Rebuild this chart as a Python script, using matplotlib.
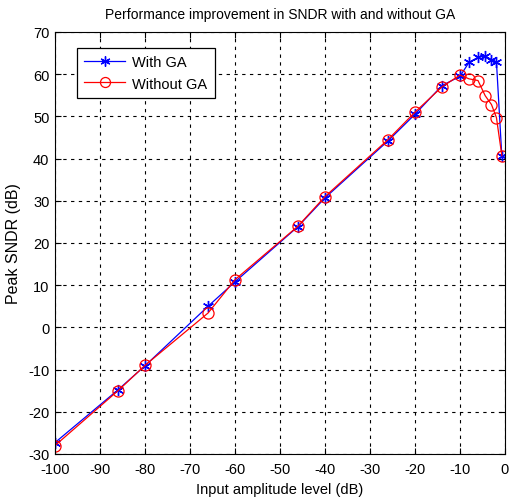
import matplotlib
matplotlib.use("Agg")
import matplotlib.pyplot as plt

x_db = [-100, -86, -80, -66, -60, -46, -40, -26, -20, -14, -10, -8, -6, -4.4, -3, -1.9, -0.7]
with_ga = [-27.3, -14.8, -9.1, 5.0, 10.8, 23.9, 30.7, 44.2, 50.5, 57.3, 59.5, 62.8, 64.0, 64.3, 63.4, 62.9, 40.5]
without_ga = [-28.0, -15.0, -9.0, 3.4, 11.3, 24.0, 31.0, 44.5, 51.0, 57.0, 59.8, 58.9, 58.5, 54.9, 52.8, 49.7, 40.7]
xticks = list(range(-100, 1, 10))
yticks = list(range(-30, 71, 10))

plt.rcParams['font.family'] = ['Liberation Sans', 'DejaVu Sans']
plt.rcParams['axes.unicode_minus'] = False

fig = plt.figure(figsize=(5.1, 5.02), dpi=100)
ax = fig.add_axes([55/510, 47/502, 450/510, 422/502])

ax.plot(x_db, with_ga, color='blue', marker=(6, 2, 0), markersize=8, markeredgewidth=1.0,
        linewidth=0.9, label='With GA')
ax.plot(x_db, without_ga, color='red', marker='o', markerfacecolor='none', markersize=8,
        markeredgewidth=0.9, linewidth=0.9, label='Without GA')

ax.set_xlim(-100, 0)
ax.set_ylim(-30, 70)
ax.set_xticks(xticks)
ax.set_yticks(yticks)
ax.tick_params(direction='in', length=4, labelsize=10.5, top=True, right=True)
ax.tick_params(axis='x', pad=6)
ax.tick_params(axis='y', pad=4)
ax.grid(True, color='black', linestyle=(0, (3, 4)), linewidth=0.8)
for s in ax.spines.values():
    s.set_linewidth(0.8)

ax.set_xlabel('Input amplitude level (dB)', fontsize=10.5, labelpad=4)
ax.set_ylabel('Peak SNDR (dB)', fontsize=11.5, labelpad=5)
ax.set_title('Performance improvement in SNDR with and without GA', fontsize=10, pad=10)

leg = ax.legend(loc='upper left', bbox_to_anchor=(22/450, 1 - 16/422), borderaxespad=0,
                fontsize=10.5, fancybox=False, edgecolor='black', framealpha=1, borderpad=0.5,
                handlelength=2.8, labelspacing=0.5, handletextpad=0.5, markerscale=0.9)
leg.get_frame().set_linewidth(0.9)

fig.savefig('out.png', dpi=100)
